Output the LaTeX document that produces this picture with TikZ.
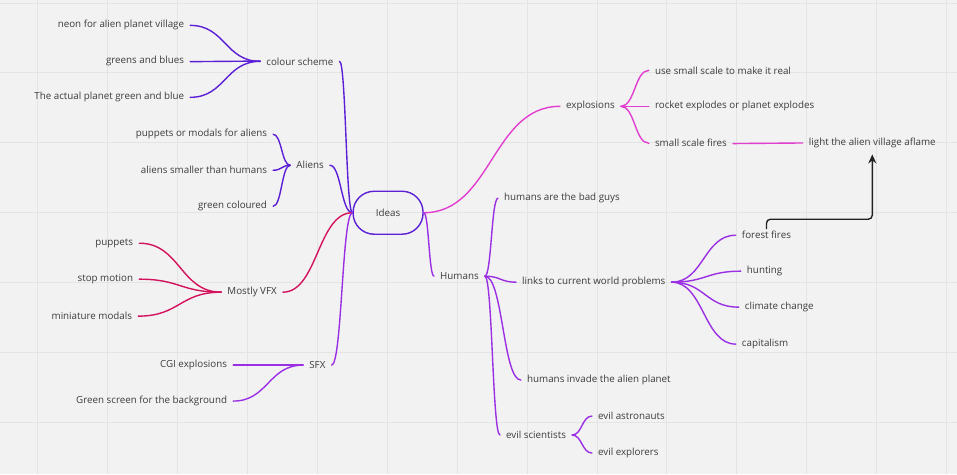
\documentclass[tikz,border=0pt]{standalone}
\usepackage{fontspec}
\setmainfont{Open Sans}
\usepackage{tikz}
\usetikzlibrary{calc,arrows.meta}
\definecolor{bluev}{HTML}{5B1FD6}
\definecolor{crim}{HTML}{D4135E}
\definecolor{viol}{HTML}{9B2FE3}
\definecolor{magen}{HTML}{E23FD0}
\definecolor{txt}{HTML}{3C3C3C}
\definecolor{bg}{HTML}{F2F2F2}
\definecolor{gridc}{HTML}{E4E4E4}
\tikzset{
    idea/.style={text=txt, font=\fontsize{9.8}{11}\selectfont, inner xsep=6pt, inner ysep=2pt},
    conn/.style={line width=1.4pt, line cap=round},
    branch/.style={to path={.. controls ($(\tikztostart)!0.5!(\tikztostart-|\tikztotarget)$) and ($(\tikztotarget)!0.5!(\tikztotarget-|\tikztostart)$) .. (\tikztotarget)}},
}

\begin{document}
\begin{tikzpicture}[x=1pt,y=1pt,yscale=-1,xscale=1]
		% background and grid
		\fill [bg] (0,0) rectangle (957,474);
		\foreach \gx in {37,107,...,947} \draw [gridc, line width=0.8] (\gx,0) -- (\gx,474);
		\foreach \gy in {2.5,72.5,...,474} \draw [gridc, line width=0.8] (0,\gy) -- (957,\gy);
		\useasboundingbox (0,0) rectangle (957,474);
		
		% Text Node
		\node [draw=bluev, line width=1.4pt, rounded corners=21pt, minimum width=70pt, minimum height=43pt, text=txt, font=\fontsize{9.8}{11}\selectfont] (ideas) at (388,212.5) {Ideas};
		
		% Text Node
		\node [idea, anchor=west] (colour) at (260,61) {colour scheme};
		\node [idea, anchor=east] (neon) at (190,25) {neon for alien planet village};
		\node [idea, anchor=east] (greens) at (190,61) {greens and blues};
		\node [idea, anchor=east] (actual) at (190,97) {The actual planet green and blue};
		% Text Node
		\node [idea, anchor=west] (aliens) at (290,165) {Aliens};
		\node [idea, anchor=east] (modals) at (273,134) {puppets or modals for aliens};
		\node [idea, anchor=east] (smaller) at (273,170) {aliens smaller than humans};
		\node [idea, anchor=east] (greencol) at (273,206) {green coloured};
		% Text Node
		\node [idea, anchor=west] (vfx) at (221,292) {Mostly VFX};
		\node [idea, anchor=east] (puppets) at (139,243) {puppets};
		\node [idea, anchor=east] (stop) at (139,279) {stop motion};
		\node [idea, anchor=east] (mini) at (138,316) {miniature modals};
		% Text Node
		\node [idea, anchor=west] (sfx) at (303,365) {SFX};
		\node [idea, anchor=east] (cgi) at (233,365) {CGI explosions};
		\node [idea, anchor=east] (screen) at (233,401) {Green screen for the background};
		
		% Text Node
		\node [idea, anchor=west] (expl) at (560,106) {explosions};
		\node [idea, anchor=west] (usesmall) at (649,70) {use small scale to make it real};
		\node [idea, anchor=west] (rocket) at (649,106) {rocket explodes or planet explodes};
		\node [idea, anchor=west] (fires) at (649,143) {small scale fires};
		\node [idea, anchor=west] (light) at (803,143) {light the alien village aflame};
		% Text Node
		\node [idea, anchor=west] (humans) at (434,276) {Humans};
		\node [idea, anchor=west] (badguys) at (498,198) {humans are the bad guys};
		\node [idea, anchor=west] (links) at (516,282) {links to current world problems};
		\node [idea, anchor=west] (invade) at (521,380) {humans invade the alien planet};
		\node [idea, anchor=west] (evilsci) at (500,435) {evil scientists};
		\node [idea, anchor=west] (astro) at (592,416) {evil astronauts};
		\node [idea, anchor=west] (explorers) at (592,453) {evil explorers};
		% Text Node
		\node [idea, anchor=west] (forest) at (736,235) {forest fires};
		\node [idea, anchor=west] (hunting) at (741,271) {hunting};
		\node [idea, anchor=west] (climate) at (739,307) {climate change};
		\node [idea, anchor=west] (capital) at (736,344) {capitalism};
		
		% Connection
		\draw [conn, bluev] (ideas.west) to[branch] (colour.east);
		\foreach \kid in {neon,actual} \draw [conn, bluev] (\kid.east) to[branch] (colour.west);
		\draw [conn, bluev] ([yshift=0.3pt]greens.east) -- ([yshift=-0.3pt]colour.west);
		\draw [conn, bluev] (ideas.west) to[branch] (aliens.east);
		\foreach \kid in {modals,smaller,greencol} \draw [conn, bluev] (\kid.east) to[branch] (aliens.west);
		% Connection
		\draw [conn, crim] (ideas.west) to[branch] (vfx.east);
		\foreach \kid in {puppets,stop,mini} \draw [conn, crim] (\kid.east) to[branch] (vfx.west);
		% Connection
		\draw [conn, viol] (ideas.west) to[branch] (sfx.east);
		\draw [conn, viol] (cgi.east) -- (sfx.west);
		\draw [conn, viol] (screen.east) to[branch] (sfx.west);
		
		% Connection
		\draw [conn, magen] (ideas.east) to[branch] (expl.west);
		\foreach \kid in {usesmall,fires} \draw [conn, magen] (expl.east) to[branch] (\kid.west);
		\draw [conn, magen] (expl.east) -- (rocket.west);
		\draw [conn, magen] ([yshift=0.3pt]fires.east) -- ([yshift=-0.3pt]light.west);
		% Connection
		\draw [conn, viol] (ideas.east) to[branch] (humans.west);
		\foreach \kid in {badguys,links,invade,evilsci} \draw [conn, viol] (humans.east) to[branch] (\kid.west);
		\foreach \kid in {astro,explorers} \draw [conn, viol] (evilsci.east) to[branch] (\kid.west);
		\foreach \kid in {forest,hunting,climate,capital} \draw [conn, viol] (links.east) to[branch] (\kid.west);
		
		% Connection
		\draw [line width=1.4pt, color={rgb,255:red,34;green,34;blue,34}, rounded corners=4pt, -{Stealth[length=9pt,width=8pt]}] (forest.north) -- ++(0,-10) -| ([yshift=4pt]light.south);
		
		\end{tikzpicture}
\end{document}
